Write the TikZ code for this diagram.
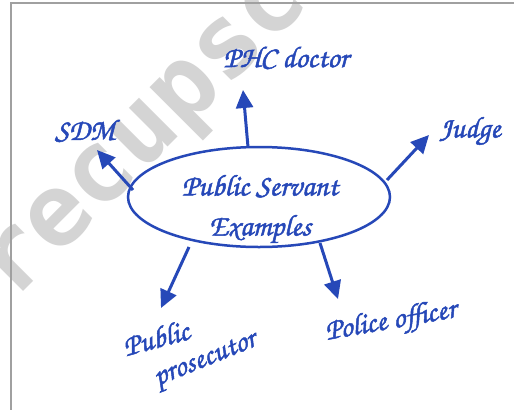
\documentclass[tikz,border=0pt]{standalone}
\usepackage{fontspec}
\usetikzlibrary{shapes.geometric,arrows.meta}
\newfontfamily\hand[FakeBold=1.6]{texgyrechorus-mediumitalic.otf}
\newfontfamily\markfont{DejaVu Sans Mono Bold}
\definecolor{ink}{RGB}{38,72,184}
\definecolor{framegray}{RGB}{160,160,160}
\definecolor{markgray}{RGB}{212,212,212}
\tikzset{
  conn/.style={ink, line width=3pt, -{Triangle[length=18pt,width=17pt]}},
  label/.style={ink, font=\hand\fontsize{30}{32}\selectfont, inner sep=0pt, align=center},
  hub/.style={draw=ink, line width=2.5pt, ellipse, minimum width=262pt, minimum height=100pt, inner sep=0pt}
}
\begin{document}
\begin{tikzpicture}[x=1pt, y=-1pt]
  \useasboundingbox (0,0) rectangle (514,410);
  \fill[white] (0,0) rectangle (514,410);
  % watermark
  \begin{scope}
    \clip (0,0) rectangle (514,410);
    \node[markgray, font=\markfont\fontsize{100}{100}\selectfont, rotate=45, inner sep=0pt] (mark) at (150,140) {recupsc};
  \end{scope}
  % frame
  \draw[framegray, line width=2pt] (514,3) -- (11,3) -- (11,410);
  % central ellipse
  \node[hub] (hub) at (259,197) {};
  \node[label] (title) at (260,209) {Public Servant\\[8pt] Examples};
  % leaves
  \node[label] (sdm) at (85,131) {SDM};
  \node[label] (phc) at (286,58) {PHC doctor};
  \node[label] (judge) at (470,131) {Judge};
  \node[label, rotate=15] (pp1) at (156,338) {Public};
  \node[label, rotate=22] (pp2) at (206,362) {prosecutor};
  \node[label, rotate=10] (police) at (391,322) {Police officer};
  % arrow roots on the ellipse
  \coordinate (s1) at (133,190);
  \coordinate (s2) at (248,147);
  \coordinate (s3) at (387,180);
  \coordinate (s4) at (189,247);
  \coordinate (s5) at (320,243);
  % arrow tips
  \coordinate (t1) at (97,150);
  \coordinate (t2) at (243,90);
  \coordinate (t3) at (429,135);
  \coordinate (t4) at (161,308);
  \coordinate (t5) at (338,299);
  \draw[conn] (s1) -- (t1);
  \draw[conn] (s2) -- (t2);
  \draw[conn] (s3) -- (t3);
  \draw[conn] (s4) -- (t4);
  \draw[conn] (s5) -- (t5);
\end{tikzpicture}
\end{document}
